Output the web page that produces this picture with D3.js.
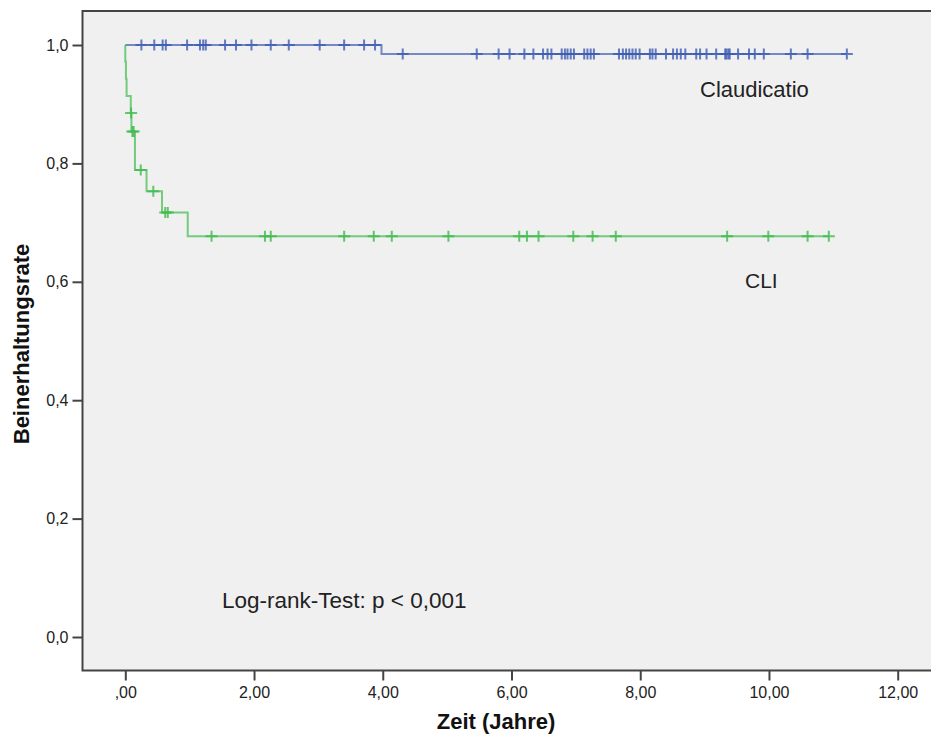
<!DOCTYPE html>
<html>
<head>
<meta charset="utf-8">
<script src="https://cdn.jsdelivr.net/npm/d3@7"></script>
<style>
  body { margin: 0; background: #fff; }
  svg { display: block; font-family: "Liberation Sans", Arial, sans-serif; }
</style>
</head>
<body>
<div class="container"></div>
<script>
// Daten (Kaplan-Meier)
// Claudicatio: Ereigniszeiten + Rate danach
var clauStepTimes = [3.98];
var clauStepRates = [0.985];
var clauCensored = [0.25, 0.45, 0.58, 0.63, 0.96, 1.16, 1.21, 1.25, 1.55, 1.72, 1.96, 2.26, 2.54, 3.02, 3.40, 3.71, 3.88,
  4.31, 5.46, 5.80, 5.97, 6.20, 6.34, 6.49, 6.56, 6.62, 6.78, 6.83, 6.87, 6.92, 6.97, 7.13, 7.18, 7.23, 7.28,
  7.67, 7.73, 7.78, 7.83, 7.88, 7.93, 7.99, 8.15, 8.19, 8.24, 8.40, 8.51, 8.57, 8.63, 8.70, 8.87, 8.93, 9.03,
  9.18, 9.32, 9.34, 9.37, 9.39, 9.52, 9.69, 9.78, 9.92, 10.34, 10.60, 11.21];

// CLI
var cliStepTimes = [0.00, 0.01, 0.02, 0.085, 0.095, 0.15, 0.33, 0.57, 0.97];
var cliStepRates = [0.972, 0.943, 0.914, 0.885, 0.854, 0.789, 0.753, 0.717, 0.677];
var cliCensored = [0.09, 0.11, 0.13, 0.24, 0.435, 0.62, 0.66, 1.34, 2.17, 2.26, 3.40, 3.86, 4.14, 5.02,
  6.12, 6.24, 6.42, 6.96, 7.26, 7.62, 9.35, 9.99, 10.60, 10.93];

var xTicks = [0, 2, 4, 6, 8, 10, 12];
var xTickLabels = [",00", "2,00", "4,00", "6,00", "8,00", "10,00", "12,00"];
var yTicks = [0, 0.2, 0.4, 0.6, 0.8, 1.0];
var yTickLabels = ["0,0", "0,2", "0,4", "0,6", "0,8", "1,0"];

// Leinwand
var main_svg_w = 931;
var main_svg_h = 738;

var frame = {left: 82.5, top: 11, right: 945, bottom: 670.5};

var svg = d3.select(".container")
            .append("svg")
            .attr("width", main_svg_w)
            .attr("height", main_svg_h);

// Skalen
var x = d3.scaleLinear().domain([0, 12]).range([125.3, 897.7]);
var y = d3.scaleLinear().domain([0, 1]).range([637, 45]);

// Plotbereich
svg.append("rect")
   .attr("x", frame.left)
   .attr("y", frame.top)
   .attr("width", frame.right - frame.left)
   .attr("height", frame.bottom - frame.top)
   .style("fill", "#f0f0f0")
   .style("stroke", "#444")
   .style("stroke-width", 2);

// Achsen
var xAxis = d3.axisBottom(x)
              .tickValues(xTicks)
              .tickSize(10)
              .tickPadding(6)
              .tickFormat(function(d, i) { return xTickLabels[i]; });

var yAxis = d3.axisLeft(y)
              .tickValues(yTicks)
              .tickSize(10)
              .tickPadding(4)
              .tickFormat(function(d, i) { return yTickLabels[i]; });

var gx = svg.append("g")
   .attr("transform", "translate(0," + frame.bottom + ")")
   .call(xAxis);
var gy = svg.append("g")
   .attr("transform", "translate(" + frame.left + ",0)")
   .call(yAxis);

[gx, gy].forEach(function(g) {
  g.select(".domain").remove();
  g.selectAll(".tick line").style("stroke", "#444").style("stroke-width", 2);
  g.selectAll(".tick text")
   .style("font-family", "'Liberation Sans', Arial, sans-serif")
   .style("font-size", "16px")
   .style("fill", "#222");
});

// Achsentitel
svg.append("text")
   .attr("x", 496)
   .attr("y", 729)
   .style("text-anchor", "middle")
   .style("font-size", "22px")
   .style("font-weight", "bold")
   .style("fill", "#111")
   .text("Zeit (Jahre)");

svg.append("text")
   .attr("transform", "translate(29,344) rotate(-90)")
   .style("text-anchor", "middle")
   .style("font-size", "22px")
   .style("font-weight", "bold")
   .style("fill", "#111")
   .text("Beinerhaltungsrate");

// Stufenfunktion
function rateAt(t, times, rates) {
  var r = 1;
  for (var k = 0; k < times.length; k++) {
    if (times[k] <= t) r = rates[k];
  }
  return r;
}

function stepPoints(times, rates, censored) {
  var pts = [[0, 1]];
  var cur = 1;
  for (var k = 0; k < times.length; k++) {
    pts.push([times[k], cur]);
    pts.push([times[k], rates[k]]);
    cur = rates[k];
  }
  pts.push([d3.max(censored.concat(times)), cur]);
  return pts;
}

var line = d3.line()
             .x(function(d) { return x(d[0]); })
             .y(function(d) { return y(d[1]); });

var groups = [
  {name: "Claudicatio", times: clauStepTimes, rates: clauStepRates, cens: clauCensored, color: "#3f5db3"},
  {name: "CLI", times: cliStepTimes, rates: cliStepRates, cens: cliCensored, color: "#3dba4b"}
];

groups.forEach(function(g) {
  svg.append("path")
     .attr("d", line(stepPoints(g.times, g.rates, g.cens)))
     .style("fill", "none")
     .style("stroke", g.color)
     .style("stroke-width", 2)
     .style("stroke-opacity", 0.7);

  svg.append("g")
     .selectAll("path")
     .data(g.cens)
     .enter()
     .append("path")
     .attr("d", function(t) {
       var cx = x(t), cy = y(rateAt(t, g.times, g.rates));
       return "M" + (cx - 6) + "," + cy + "H" + (cx + 6) + "M" + cx + "," + (cy - 5.5) + "V" + (cy + 5.5);
     })
     .style("fill", "none")
     .style("stroke", g.color)
     .style("stroke-width", 2)
     .style("stroke-opacity", 0.8);
});

// Beschriftungen
svg.append("text")
   .attr("x", 700).attr("y", 97)
   .style("font-size", "22px").style("fill", "#222")
   .text("Claudicatio");

svg.append("text")
   .attr("x", 745).attr("y", 288)
   .style("font-size", "21px").style("fill", "#222")
   .text("CLI");

svg.append("text")
   .attr("x", 222).attr("y", 608)
   .style("font-size", "22.5px").style("fill", "#222")
   .text("Log-rank-Test: p < 0,001");
</script>
</body>
</html>
